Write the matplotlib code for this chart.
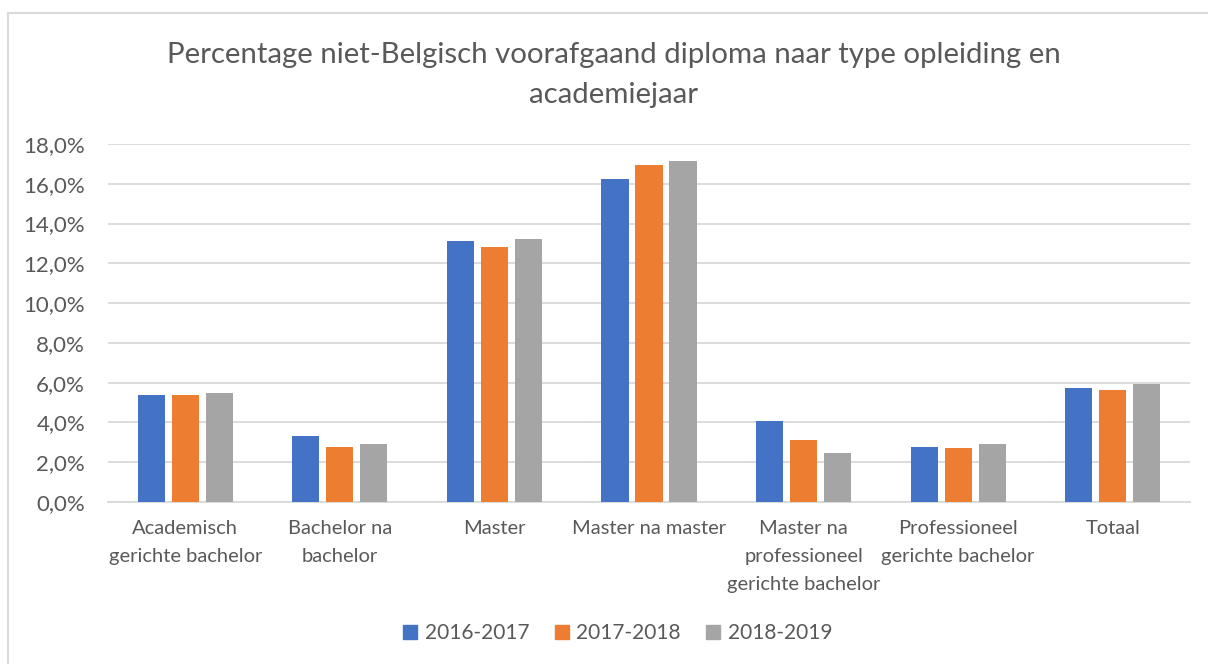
import matplotlib.pyplot as plt
import numpy as np
from matplotlib.lines import Line2D
from matplotlib.ticker import FuncFormatter

# data (percentages)
categories = ['Academisch\ngerichte bachelor', 'Bachelor na\nbachelor', 'Master',
              'Master na master', 'Master na\nprofessioneel\ngerichte bachelor',
              'Professioneel\ngerichte bachelor', 'Totaal']
years = ['2016-2017', '2017-2018', '2018-2019']
pct_2016 = [5.36, 3.32, 13.14, 16.26, 4.09, 2.78, 5.71]
pct_2017 = [5.38, 2.78, 12.84, 16.93, 3.10, 2.70, 5.65]
pct_2018 = [5.46, 2.92, 13.24, 17.13, 2.46, 2.92, 5.92]

colors = ['#4472C4', '#ED7D31', '#A5A5A5']
text_col = '#595959'
grid_col = '#D9D9D9'

plt.rcParams['font.family'] = ['Lato', 'DejaVu Sans']

fig = plt.figure(figsize=(12.08, 6.64), dpi=100)
ax = fig.add_axes([108 / 1208, 1 - 502 / 664, (1190 - 108) / 1208, (502 - 144) / 664])

x = np.arange(len(categories))
step = 0.22
width = 0.175
for i, (vals, lab) in enumerate(zip([pct_2016, pct_2017, pct_2018], years)):
    ax.bar(x + (i - 1) * step, vals, width, color=colors[i], label=lab, zorder=3)

ax.set_xlim(-0.5, len(categories) - 0.5)
ax.set_ylim(0, 18)
ax.set_yticks(np.arange(0, 18.1, 2))
ax.yaxis.set_major_formatter(FuncFormatter(lambda v, p: f'{v:.1f}%'.replace('.', ',')))
ax.set_xticks(x)
ax.set_xticklabels(categories, linespacing=1.8)

ax.grid(axis='y', color=grid_col, linewidth=1.3, zorder=0)
for s in ['top', 'right', 'left']:
    ax.spines[s].set_visible(False)
ax.spines['bottom'].set_color(grid_col)
ax.spines['bottom'].set_linewidth(1.3)
ax.tick_params(axis='both', length=0, colors=text_col)
ax.tick_params(axis='x', pad=13, labelsize=14.5)
ax.tick_params(axis='y', pad=16.5, labelsize=16)

fig.text(0.508, 0.917, 'Percentage niet-Belgisch voorafgaand diploma naar type opleiding en',
         ha='center', va='center', fontsize=21.2, color=text_col)
fig.text(0.508, 0.857, 'academiejaar',
         ha='center', va='center', fontsize=21.2, color=text_col)

handles = [Line2D([], [], marker='s', linestyle='none', markersize=10,
                  markerfacecolor=c, markeredgecolor=c) for c in colors]
fig.legend(handles, years, loc='center', bbox_to_anchor=(0.51, 1 - 633 / 664),
           ncol=3, frameon=False, fontsize=15, labelcolor=text_col,
           handletextpad=0.2, columnspacing=1.05, handlelength=1.0)

# chart border (left and top edge visible)
fig.add_artist(Line2D([8 / 1208, 8 / 1208], [0, 1 - 13 / 664], color=grid_col, lw=1.5,
                      transform=fig.transFigure))
fig.add_artist(Line2D([8 / 1208, 1], [1 - 13 / 664, 1 - 13 / 664], color=grid_col, lw=1.5,
                      transform=fig.transFigure))

fig.savefig('out.png', dpi=100)
